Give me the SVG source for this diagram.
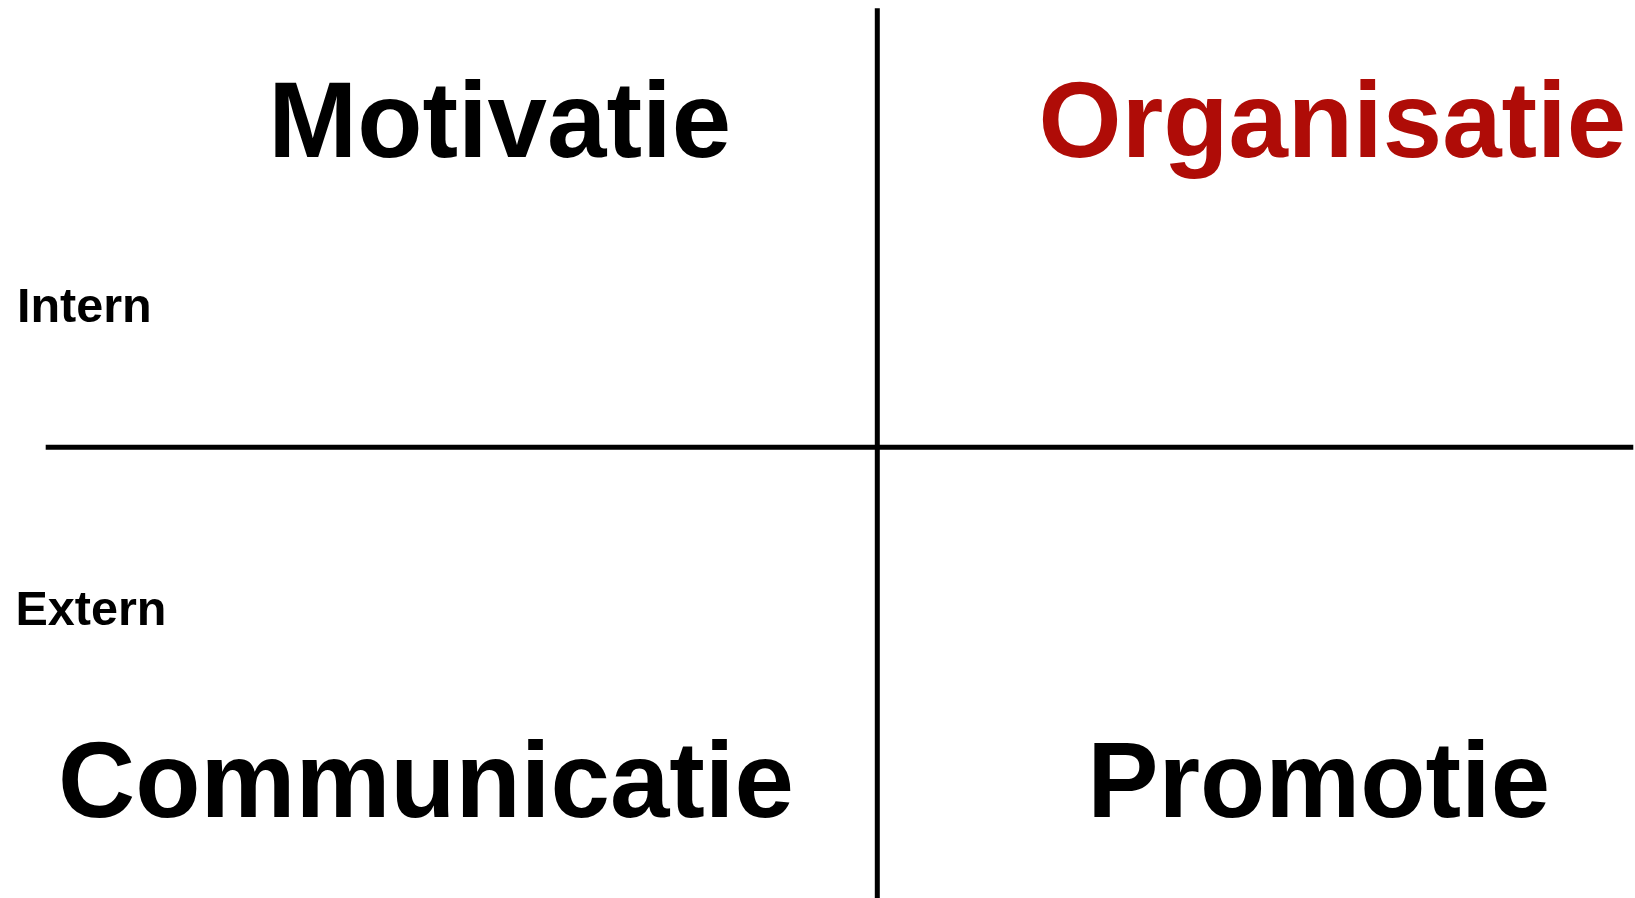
<svg xmlns="http://www.w3.org/2000/svg" width="1635" height="898" viewBox="0 0 1635 898">
<style>
.big{font-family:"Liberation Sans",Arial,sans-serif;font-weight:bold;font-size:106.8px;fill:#000}
.red{fill:#AF0C07}
.small{font-family:"Liberation Sans",Arial,sans-serif;font-weight:bold;font-size:48.5px;fill:#000}
.axis{stroke:#000;stroke-width:5;fill:none}
</style>
<rect width="1635" height="898" fill="#fff"/>
<g id="connectors">
<line class="axis" x1="877.3" y1="8.3" x2="877.3" y2="898"/>
<line class="axis" x1="45.7" y1="447.3" x2="1633.3" y2="447.3"/>
</g>
<g id="motivatie"><text class="big" x="268.2" y="156.5">Motivatie</text></g>
<g id="organisatie"><text class="big red" x="1038.6" y="156.5">Organisatie</text></g>
<g id="communicatie"><text class="big" x="58.1" y="816.5">Communicatie</text></g>
<g id="promotie"><text class="big" x="1087.2" y="816.5">Promotie</text></g>
<g id="intern"><text class="small" x="17" y="321.7">Intern</text></g>
<g id="extern"><text class="small" x="15.5" y="625">Extern</text></g>
</svg>
